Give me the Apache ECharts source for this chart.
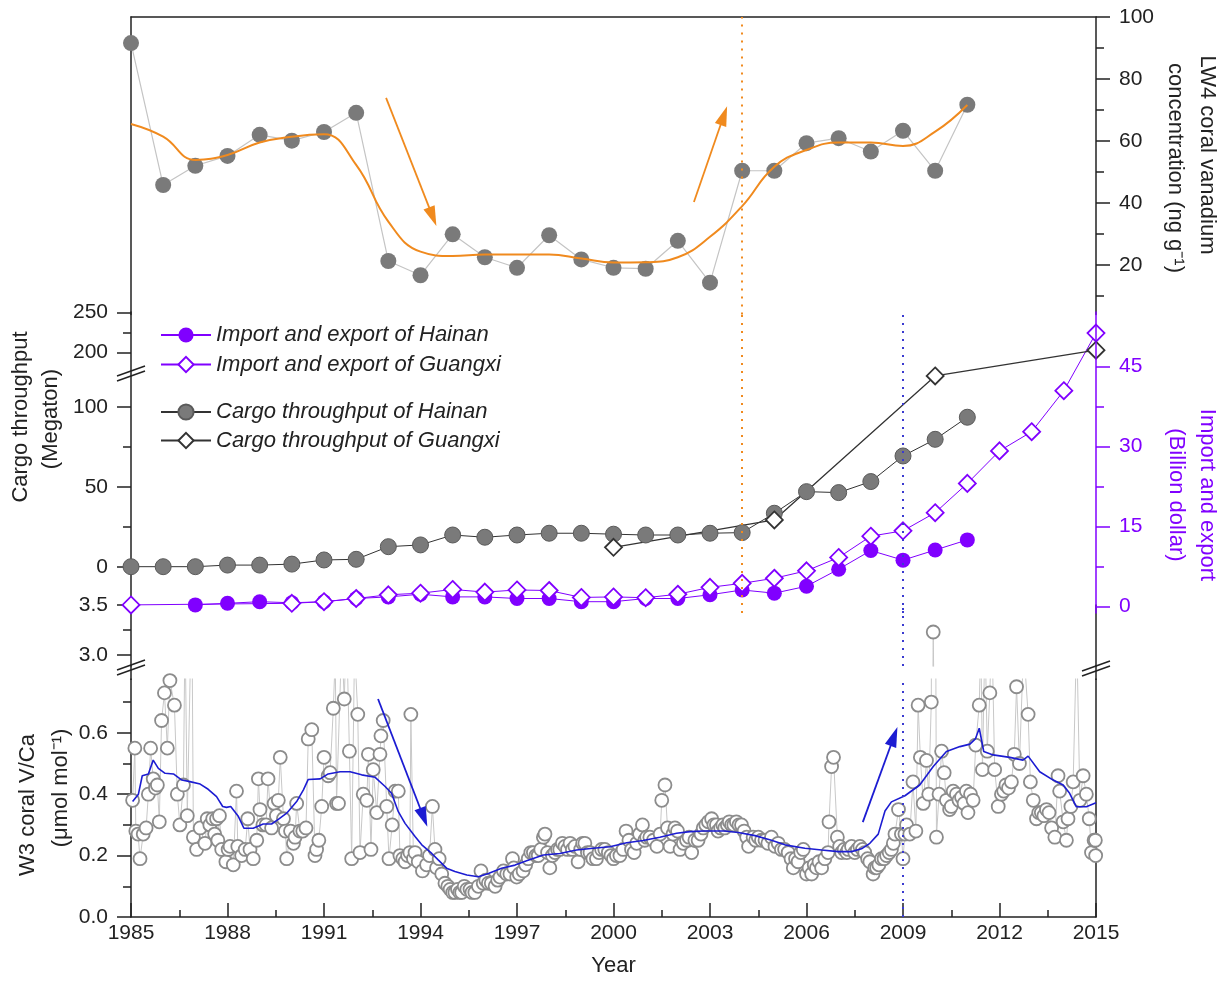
<!DOCTYPE html>
<html>
<head>
<meta charset="utf-8">
<title>Coral vanadium and trade</title>
<script src="https://cdn.jsdelivr.net/npm/echarts@6.0.0/dist/echarts.min.js"></script>
<style>
  html, body { margin: 0; padding: 0; background: #fff; }
  #chart { width: 1227px; height: 981px; }
</style>
</head>
<body>
<div id="chart"></div>
<script>
//LW4 珊瑚钒浓度
var lw4Years = [1985, 1986, 1987, 1988, 1989, 1990, 1991, 1992, 1993, 1994, 1995, 1996, 1997, 1998,
  1999, 2000, 2001, 2002, 2003, 2004, 2005, 2006, 2007, 2008, 2009, 2010, 2011];
var lw4Values = [91.6, 45.8, 52.0, 55.2, 62.0, 60.1, 62.9, 69.1, 21.3, 16.7, 29.9, 22.5, 19.1, 29.6,
  21.8, 19.1, 18.8, 27.8, 14.3, 50.4, 50.4, 59.3, 60.9, 56.6, 63.3, 50.4, 71.7];
var lw4Smooth = [65.5, 61.4, 53.9, 55.5, 59.5, 61.4, 62.2, 52.3, 34.0, 24.3, 22.9, 23.4, 23.4, 23.4,
  22.1, 20.8, 20.9, 22.5, 29.1, 39.0, 51.7, 57.1, 59.5, 59.5, 58.4, 63.0, 71.6];

//货物吞吐量
var cargoHainanYears = [1985, 1986, 1987, 1988, 1989, 1990, 1991, 1992, 1993, 1994, 1995, 1996, 1997, 1998,
  1999, 2000, 2001, 2002, 2003, 2004, 2005, 2006, 2007, 2008, 2009, 2010, 2011];
var cargoHainan = [0.2, 0.2, 0.2, 1.2, 1.2, 1.8, 4.4, 4.8, 12.7, 13.8, 20.0, 18.6, 20.0, 21.1,
  21.1, 20.5, 20.0, 20.0, 21.1, 21.5, 33.6, 47.1, 46.5, 53.4, 69.4, 79.8, 93.6];
var cargoGuangxiYears = [2000, 2005, 2010, 2015];
var cargoGuangxi = [12.3, 29.4, 119.4, 203];

//进出口
var importHainanYears = [1987, 1988, 1989, 1990, 1991, 1992, 1993, 1994, 1995, 1996, 1997, 1998, 1999,
  2000, 2001, 2002, 2003, 2004, 2005, 2006, 2007, 2008, 2009, 2010, 2011];
var importHainan = [0.3, 0.6, 0.9, 0.7, 0.9, 1.5, 1.8, 2.3, 1.8, 1.8, 1.5, 1.5, 0.9,
  0.9, 1.5, 1.5, 2.2, 3.1, 2.5, 3.8, 7.0, 10.5, 8.7, 10.6, 12.5];
var importGuangxiYears = [1985, 1990, 1991, 1992, 1993, 1994, 1995, 1996, 1997, 1998, 1999, 2000, 2001,
  2002, 2003, 2004, 2005, 2006, 2007, 2008, 2009, 2010, 2011, 2012, 2013, 2014, 2015];
var importGuangxi = [0.3, 0.6, 0.9, 1.5, 2.2, 2.5, 3.2, 2.7, 3.1, 3.0, 1.7, 1.8, 1.65,
  2.3, 3.6, 4.35, 5.3, 6.7, 9.2, 13.2, 14.2, 17.6, 23.1, 29.2, 32.8, 40.5, 51.3];

//W3 珊瑚 V/Ca
var w3Years = [
  1985.05, 1985.12, 1985.15, 1985.22, 1985.28, 1985.38, 1985.47, 1985.54, 1985.61, 1985.69, 1985.76, 1985.82, 1985.88, 1985.95,
  1986.04, 1986.13, 1986.21, 1986.35, 1986.44, 1986.52, 1986.63, 1986.68, 1986.75, 1986.89, 1986.94,
  1987.04, 1987.15, 1987.30, 1987.37, 1987.45, 1987.54, 1987.60, 1987.66, 1987.70, 1987.75, 1987.82, 1987.95,
  1988.02, 1988.08, 1988.18, 1988.28, 1988.32, 1988.44, 1988.55, 1988.63, 1988.70, 1988.80, 1988.91, 1988.96,
  1989.01, 1989.10, 1989.20, 1989.26, 1989.37, 1989.45, 1989.52, 1989.58, 1989.64, 1989.74, 1989.80, 1989.84, 1989.96,
  1990.05, 1990.10, 1990.15, 1990.25, 1990.34, 1990.44, 1990.51, 1990.62, 1990.72, 1990.77, 1990.84, 1990.93,
  1991.00, 1991.13, 1991.19, 1991.29, 1991.35, 1991.39, 1991.45, 1991.55, 1991.63, 1991.70, 1991.79, 1991.86, 1991.95,
  1992.05, 1992.12, 1992.22, 1992.33, 1992.38, 1992.46, 1992.53, 1992.64, 1992.74, 1992.77, 1992.84, 1992.95,
  1993.02, 1993.12, 1993.21, 1993.31, 1993.36, 1993.45, 1993.52, 1993.60, 1993.67, 1993.70, 1993.78, 1993.83, 1993.93,
  1994.06, 1994.19, 1994.28, 1994.37, 1994.45, 1994.50, 1994.58, 1994.66, 1994.76, 1994.85, 1994.92,
  1995.00, 1995.07, 1995.15, 1995.22, 1995.28, 1995.36, 1995.44, 1995.54, 1995.60, 1995.69, 1995.80, 1995.88, 1995.95,
  1996.03, 1996.11, 1996.20, 1996.32, 1996.40, 1996.47, 1996.58, 1996.68, 1996.78, 1996.86, 1996.90, 1996.99,
  1997.07, 1997.19, 1997.27, 1997.35, 1997.43, 1997.51, 1997.59, 1997.66, 1997.74, 1997.82, 1997.87, 1997.95,
  1998.02, 1998.10, 1998.18, 1998.26, 1998.33, 1998.41, 1998.49, 1998.57, 1998.65, 1998.72, 1998.80, 1998.90, 1998.98,
  1999.04, 1999.11, 1999.19, 1999.27, 1999.36, 1999.47, 1999.55, 1999.63, 1999.73, 1999.84, 1999.92,
  2000.00, 2000.09, 2000.20, 2000.30, 2000.39, 2000.48, 2000.56, 2000.64, 2000.72, 2000.81, 2000.90, 2000.97,
  2001.03, 2001.13, 2001.24, 2001.35, 2001.45, 2001.50, 2001.60, 2001.68, 2001.76, 2001.85, 2001.91, 2001.99,
  2002.07, 2002.17, 2002.27, 2002.35, 2002.43, 2002.53, 2002.63, 2002.72, 2002.79, 2002.87, 2002.95,
  2003.05, 2003.12, 2003.20, 2003.25, 2003.33, 2003.40, 2003.46, 2003.54, 2003.60, 2003.67, 2003.74, 2003.82, 2003.90, 2003.98,
  2004.06, 2004.14, 2004.20, 2004.34, 2004.42, 2004.50, 2004.60, 2004.71, 2004.80, 2004.91,
  2005.02, 2005.12, 2005.22, 2005.32, 2005.43, 2005.52, 2005.59, 2005.66, 2005.74, 2005.82, 2005.90,
  2006.00, 2006.08, 2006.16, 2006.24, 2006.31, 2006.39, 2006.47, 2006.57, 2006.67, 2006.70, 2006.78, 2006.84, 2006.96,
  2007.03, 2007.09, 2007.17, 2007.25, 2007.30, 2007.40, 2007.50, 2007.58, 2007.66, 2007.74, 2007.81, 2007.90, 2007.97,
  2008.07, 2008.12, 2008.18, 2008.25, 2008.33, 2008.41, 2008.49, 2008.57, 2008.64, 2008.70, 2008.75, 2008.86, 2008.95,
  2009.00, 2009.06, 2009.11, 2009.21, 2009.31, 2009.40, 2009.47, 2009.54, 2009.63, 2009.73, 2009.80, 2009.88, 2009.94,
  2010.04, 2010.12, 2010.20, 2010.28, 2010.35, 2010.45, 2010.50, 2010.56, 2010.66, 2010.74, 2010.82, 2010.90, 2010.97,
  2011.02, 2011.10, 2011.18, 2011.26, 2011.37, 2011.42, 2011.47, 2011.55, 2011.62, 2011.70, 2011.76, 2011.85, 2011.96,
  2012.06, 2012.13, 2012.20, 2012.28, 2012.37, 2012.46, 2012.53, 2012.62, 2012.75, 2012.89, 2012.96,
  2013.05, 2013.15, 2013.22, 2013.30, 2013.38, 2013.46, 2013.54, 2013.62, 2013.72, 2013.82, 2013.87, 2013.98,
  2014.08, 2014.13, 2014.22, 2014.29, 2014.40, 2014.50, 2014.60, 2014.70, 2014.79, 2014.86, 2014.94, 2014.98, 2014.99
];
var w3Values = [
  0.38, 0.55, 0.28, 0.27, 0.19, 0.27, 0.29, 0.40, 0.55, 0.45, 0.42, 0.43, 0.31, 0.64,
  0.73, 0.55, 0.77, 0.69, 0.40, 0.30, 0.43, 0.95, 0.33, 1.05, 0.26,
  0.22, 0.29, 0.24, 0.32, 0.30, 0.32, 0.27, 0.32, 0.25, 0.33, 0.22, 0.18,
  0.22, 0.23, 0.17, 0.41, 0.23, 0.20, 0.22, 0.32, 0.22, 0.19, 0.25, 0.45,
  0.35, 0.30, 0.30, 0.45, 0.29, 0.37, 0.33, 0.38, 0.52, 0.32, 0.28, 0.19, 0.28,
  0.24, 0.26, 0.37, 0.28, 0.28, 0.29, 0.58, 0.61, 0.20, 0.22, 0.25, 0.36,
  0.52, 0.46, 0.47, 0.68, 0.85, 0.37, 0.37, 0.90, 0.71, 0.95, 0.54, 0.19, 0.88,
  0.66, 0.21, 0.40, 0.38, 0.53, 0.22, 0.48, 0.34, 0.53, 0.59, 0.64, 0.36,
  0.19, 0.30, 0.41, 0.41, 0.20, 0.19, 0.18, 0.20, 0.21, 0.66, 0.19, 0.21, 0.18,
  0.15, 0.17, 0.20, 0.36, 0.22, 0.16, 0.19, 0.14, 0.11, 0.10, 0.09,
  0.08, 0.08, 0.09, 0.08, 0.08, 0.10, 0.09, 0.09, 0.08, 0.08, 0.10, 0.15, 0.11,
  0.12, 0.11, 0.11, 0.10, 0.12, 0.13, 0.15, 0.14, 0.14, 0.19, 0.16, 0.13,
  0.14, 0.15, 0.17, 0.19, 0.21, 0.21, 0.20, 0.20, 0.22, 0.26, 0.27, 0.21,
  0.16, 0.20, 0.21, 0.22, 0.22, 0.24, 0.23, 0.22, 0.24, 0.22, 0.23, 0.18, 0.22,
  0.24, 0.24, 0.21, 0.21, 0.19, 0.19, 0.21, 0.22, 0.22, 0.21, 0.20,
  0.19, 0.20, 0.20, 0.22, 0.28, 0.25, 0.22, 0.21, 0.24, 0.27, 0.30, 0.25,
  0.26, 0.26, 0.25, 0.23, 0.27, 0.38, 0.43, 0.29, 0.23, 0.27, 0.29, 0.28,
  0.22, 0.24, 0.25, 0.26, 0.21, 0.25, 0.25, 0.27, 0.29, 0.30, 0.31,
  0.32, 0.30, 0.30, 0.28, 0.29, 0.30, 0.29, 0.30, 0.31, 0.30, 0.30, 0.31, 0.30, 0.30,
  0.28, 0.26, 0.23, 0.26, 0.25, 0.26, 0.25, 0.25, 0.24, 0.26,
  0.23, 0.24, 0.22, 0.22, 0.21, 0.19, 0.16, 0.19, 0.18, 0.21, 0.22,
  0.14, 0.16, 0.14, 0.17, 0.16, 0.18, 0.16, 0.19, 0.21, 0.31, 0.49, 0.52, 0.26,
  0.23, 0.21, 0.22, 0.21, 0.22, 0.23, 0.21, 0.22, 0.23, 0.22, 0.21, 0.19, 0.18,
  0.14, 0.16, 0.16, 0.17, 0.19, 0.19, 0.20, 0.21, 0.22, 0.24, 0.27, 0.35, 0.27,
  0.19, 0.27, 0.30, 0.27, 0.44, 0.28, 0.69, 0.52, 0.37, 0.51, 0.40, 0.70, 3.23,
  0.26, 0.40, 0.54, 0.47, 0.38, 0.35, 0.36, 0.41, 0.40, 0.38, 0.39, 0.37, 0.41,
  0.34, 0.40, 0.38, 0.56, 0.69, 0.90, 0.48, 0.92, 0.54, 0.73, 0.95, 0.48, 0.36,
  0.40, 0.41, 0.43, 0.42, 0.44, 0.53, 0.75, 0.50, 0.88, 0.66, 0.44,
  0.38, 0.32, 0.34, 0.34, 0.33, 0.35, 0.34, 0.29, 0.26, 0.46, 0.41, 0.31,
  0.25, 0.32, 0.36, 0.44, 0.92, 0.38, 0.46, 0.40, 0.32, 0.21, 0.25, 0.25, 0.20
];
var w3SmoothYears = [1985.05, 1985.23, 1985.35, 1985.54, 1985.69, 1985.85, 1986.06, 1986.32, 1986.58, 1986.83,
  1987.15, 1987.40, 1987.66, 1987.85, 1987.97, 1988.10, 1988.34, 1988.51, 1988.80, 1989.11, 1989.37, 1989.58,
  1989.84, 1990.15, 1990.36, 1990.51, 1990.88, 1991.13, 1991.50, 1991.81, 1992.17, 1992.59, 1992.90, 1993.10,
  1993.31, 1993.52, 1993.83, 1994.04, 1994.35, 1994.55, 1994.81, 1995.07, 1995.44, 1995.80, 1996.11, 1996.52,
  1996.94, 1997.30, 1997.82, 1998.33, 1998.85, 1999.37, 1999.89, 2000.41, 2000.92, 2001.44, 2001.96, 2002.38,
  2002.79, 2003.15, 2003.46, 2003.88, 2004.40, 2004.91, 2005.33, 2005.95, 2006.47, 2006.99, 2007.40, 2007.71,
  2007.97, 2008.23, 2008.44, 2008.64, 2009.06, 2009.52, 2009.94, 2010.35, 2010.77, 2011.08, 2011.25, 2011.37,
  2011.51, 2011.80, 2012.32, 2012.73, 2012.89, 2013.25, 2013.67, 2013.98, 2014.18, 2014.39, 2014.70, 2015.00];
var w3Smooth = [0.376, 0.40, 0.46, 0.466, 0.511, 0.484, 0.468, 0.466, 0.446, 0.441,
  0.433, 0.416, 0.392, 0.36, 0.357, 0.36, 0.327, 0.289, 0.289, 0.303, 0.303, 0.318,
  0.338, 0.376, 0.414, 0.448, 0.45, 0.466, 0.473, 0.473, 0.463, 0.455, 0.425, 0.403,
  0.343, 0.305, 0.262, 0.235, 0.207, 0.186, 0.159, 0.148, 0.137, 0.131, 0.142, 0.159,
  0.169, 0.183, 0.202, 0.207, 0.218, 0.224, 0.229, 0.242, 0.249, 0.26, 0.273, 0.278,
  0.28, 0.28, 0.28, 0.275, 0.265, 0.25, 0.235, 0.224, 0.218, 0.213, 0.213, 0.222,
  0.24, 0.27, 0.345, 0.375, 0.395, 0.43, 0.49, 0.539, 0.555, 0.563, 0.58, 0.615,
  0.539, 0.528, 0.52, 0.511, 0.524, 0.473, 0.446, 0.43, 0.403, 0.359, 0.359, 0.372];

//刻度
var yearTicks = [1985, 1988, 1991, 1994, 1997, 2000, 2003, 2006, 2009, 2012, 2015];
var lw4Ticks = [20, 40, 60, 80, 100];
var lw4Minor = [10, 30, 50, 70, 90];
var cargoTicks = [0, 50, 100, 200, 250];
var cargoMinor = [25, 75, 225];
var importTicks = [0, 15, 30, 45];
var importMinor = [7.5, 22.5, 37.5];
var vcaTicks = [0, 0.2, 0.4, 0.6];
var vcaMinor = [0.1, 0.3, 0.5, 0.7];
var vcaHighTicks = [3.0, 3.5];
var vcaHighMinor = [3.25];

var font = '"Liberation Sans", Arial, Helvetica, sans-serif';
var ink = '#222';
var purple = '#8000ff';
var orange = '#f08a1e';
var blue = '#1c1cd2';

//断轴：0-122 原比例，176 以上压缩一半
function cargoScale(v) {
  return v <= 122 ? v : 122 + (v - 176) * 0.5;
}

function toPairs(xs, ys, fn) {
  return xs.map(function (x, i) { return [x, fn ? fn(ys[i]) : ys[i]]; });
}

function midpoints(arr) {
  var out = [];
  for (var i = 0; i < arr.length - 1; i++) out.push((arr[i] + arr[i + 1]) / 2);
  return out;
}

function yMajor(grid, pos, min, max, ticks, color, fmt, z) {
  return {
    type: 'value', gridIndex: grid, position: pos, min: min, max: max, z: z || 0,
    splitLine: { show: false },
    axisLine: { show: true, onZero: false, lineStyle: { color: color, width: 1.5 } },
    axisTick: { show: true, inside: false, length: 14, customValues: ticks, lineStyle: { color: color, width: 1.5 } },
    axisLabel: fmt ? {
      show: true, customValues: ticks, margin: 23, color: color,
      fontSize: 21, fontFamily: font, formatter: fmt
    } : { show: false }
  };
}

function yMinor(grid, pos, min, max, ticks, color) {
  return {
    type: 'value', gridIndex: grid, position: pos, min: min, max: max,
    splitLine: { show: false },
    axisLine: { show: false, onZero: false },
    axisTick: { show: true, inside: false, length: 8, customValues: ticks, lineStyle: { color: color, width: 1.5 } },
    axisLabel: { show: false }
  };
}

function yLine(grid, pos, min, max) {
  return {
    type: 'value', gridIndex: grid, position: pos, min: min, max: max,
    splitLine: { show: false },
    axisLine: { show: true, onZero: false, lineStyle: { color: ink, width: 1.5 } },
    axisTick: { show: false },
    axisLabel: { show: false }
  };
}

function xHidden(grid) {
  return { type: 'value', gridIndex: grid, min: 1985, max: 2015, show: false };
}

function breakMark(cx, cy) {
  return {
    type: 'group', x: cx, y: cy, z: 100, silent: true,
    children: [
      { type: 'polygon', shape: { points: [[-14, 3], [14, -7], [14, -2], [-14, 8]] }, style: { fill: '#fff' } },
      { type: 'line', shape: { x1: -14, y1: 3, x2: 14, y2: -7 }, style: { stroke: ink, lineWidth: 1.5 } },
      { type: 'line', shape: { x1: -14, y1: 8, x2: 14, y2: -2 }, style: { stroke: ink, lineWidth: 1.5 } }
    ]
  };
}

function title(text, x, y, rot, color) {
  return {
    type: 'text', x: x, y: y, rotation: rot, silent: true, z: 100,
    style: {
      text: text, fill: color, font: '22px ' + font,
      align: 'center', verticalAlign: 'middle', textAlign: 'center', textVerticalAlign: 'middle'
    }
  };
}

function arrow(from, to, color) {
  return [
    { coord: from, symbol: 'none' },
    { coord: to, symbol: 'triangle', symbolSize: [12, 20], itemStyle: { color: color } }
  ];
}

function dotted(x, color) {
  return { xAxis: x, symbol: 'none', lineStyle: { type: [2, 6], width: 2, color: color } };
}

function renderChart() {
  var myChart = echarts.init(document.getElementById('chart'));
  var cargoShown = cargoTicks.map(cargoScale);
  var legendText = { fontSize: 22, fontFamily: font, fontStyle: 'italic', color: ink };

  var options = {
    animation: false,
    backgroundColor: '#fff',
    grid: [
      { left: 131, top: 17, width: 965, height: 297.6 },
      { left: 131, top: 312, width: 965, height: 301 },
      { left: 131, top: 605, width: 965, height: 61 },
      { left: 131, top: 679, width: 965, height: 238 }
    ],
    legend: [
      {
        data: ['Import and export of Hainan', 'Import and export of Guangxi'],
        orient: 'vertical', left: 160, top: 324, padding: 0, itemGap: 7.5,
        itemWidth: 50, itemHeight: 19, selectedMode: false, textStyle: legendText
      },
      {
        data: ['Cargo throughput of Hainan', 'Cargo throughput of Guangxi'],
        orient: 'vertical', left: 160, top: 401, padding: 0, itemGap: 6.5,
        itemWidth: 50, itemHeight: 19, selectedMode: false, textStyle: legendText
      }
    ],
    xAxis: [
      {
        type: 'value', gridIndex: 0, position: 'top', min: 1985, max: 2015,
        splitLine: { show: false }, axisTick: { show: false }, axisLabel: { show: false },
        axisLine: { show: true, onZero: false, lineStyle: { color: ink, width: 1.5 } }
      },
      xHidden(1),
      xHidden(2),
      {
        type: 'value', gridIndex: 3, position: 'bottom', min: 1985, max: 2015,
        name: 'Year', nameLocation: 'middle', nameGap: 38,
        nameTextStyle: { fontSize: 22, fontFamily: font, color: ink },
        splitLine: { show: false },
        axisLine: { show: true, onZero: false, lineStyle: { color: ink, width: 1.5 } },
        axisTick: { show: true, inside: true, length: 14, customValues: yearTicks, lineStyle: { color: ink, width: 1.5 } },
        axisLabel: {
          customValues: yearTicks, margin: 6, fontSize: 21, fontFamily: font, color: ink,
          formatter: function (v) { return String(v); }
        }
      },
      {
        type: 'value', gridIndex: 3, position: 'bottom', min: 1985, max: 2015,
        splitLine: { show: false }, axisLine: { show: false, onZero: false }, axisLabel: { show: false },
        axisTick: { show: true, inside: true, length: 7, customValues: midpoints(yearTicks), lineStyle: { color: ink, width: 1.5 } }
      }
    ],
    yAxis: [
      yMajor(0, 'right', 4, 100, lw4Ticks, ink, function (v) { return String(v); }),
      yMinor(0, 'right', 4, 100, lw4Minor, ink),
      yLine(0, 'left', 4, 100),
      yMajor(1, 'left', -28.75, 159.375, cargoShown, ink, function (v) {
        var i = cargoShown.indexOf(v);
        return i < 0 ? '' : String(cargoTicks[i]);
      }),
      yMinor(1, 'left', -28.75, 159.375, cargoMinor.map(cargoScale), ink),
      yMajor(1, 'right', -1.22, 55.26, importTicks, purple, function (v) { return String(v); }, 5),
      yMinor(1, 'right', -1.22, 55.26, importMinor, purple),
      yMajor(2, 'left', 2.89, 3.5, vcaHighTicks, ink, function (v) { return v.toFixed(1); }),
      yMinor(2, 'left', 2.89, 3.5, vcaHighMinor, ink),
      yLine(2, 'right', 2.89, 3.5),
      yMajor(3, 'left', 0, 0.7752, vcaTicks, ink, function (v) { return v.toFixed(1); }),
      yMinor(3, 'left', 0, 0.7752, vcaMinor, ink),
      yLine(3, 'right', 0, 0.7752)
    ],
    graphic: [
      //断轴标记和断口处的轴线
      { type: 'line', silent: true, z: 90, shape: { x1: 131, y1: 665, x2: 131, y2: 680 }, style: { stroke: ink, lineWidth: 1.5 } },
      { type: 'line', silent: true, z: 90, shape: { x1: 1096, y1: 665, x2: 1096, y2: 680 }, style: { stroke: ink, lineWidth: 1.5 } },
      breakMark(131, 373),
      breakMark(131, 667),
      breakMark(1096, 668),
      title('LW4 coral vanadium', 1207, 155, -Math.PI / 2, ink),
      title('concentration (ng g\u207B\u00B9)', 1175, 168, -Math.PI / 2, ink),
      title('Import and export', 1207, 495, -Math.PI / 2, purple),
      title('(Billion dollar)', 1176, 495, -Math.PI / 2, purple),
      title('Cargo throughput', 21, 417, Math.PI / 2, ink),
      title('(Megaton)', 51, 419, Math.PI / 2, ink),
      title('W3 coral V/Ca', 28, 805, Math.PI / 2, ink),
      title('(\u03BCmol mol\u207B\u00B9)', 61, 788, Math.PI / 2, ink)
    ],
    series: [
      {
        name: 'LW4', type: 'line', xAxisIndex: 0, yAxisIndex: 0,
        data: toPairs(lw4Years, lw4Values),
        symbol: 'circle', symbolSize: 16, z: 3,
        itemStyle: { color: '#7a7a7a' },
        lineStyle: { color: '#c4c4c4', width: 1.2 },
        emphasis: { disabled: true },
        markLine: {
          silent: true, animation: false, symbol: 'none', symbolSize: 14,
          label: { show: false }, emphasis: { disabled: true },
          lineStyle: { color: orange, width: 1.8, type: 'solid' },
          itemStyle: { color: orange },
          data: [
            dotted(2004, orange),
            arrow([1992.93, 73.9], [1994.38, 35.6], orange),
            arrow([2002.50, 40.3], [2003.43, 68.2], orange)
          ]
        }
      },
      {
        name: 'LW4 smooth', type: 'line', xAxisIndex: 0, yAxisIndex: 0,
        data: toPairs(lw4Years, lw4Smooth),
        smooth: 0.45, showSymbol: false, symbol: 'none', z: 4,
        lineStyle: { color: orange, width: 2 },
        emphasis: { disabled: true }
      },
      {
        name: 'Import and export of Hainan', type: 'line', xAxisIndex: 1, yAxisIndex: 5,
        data: toPairs(importHainanYears, importHainan),
        symbol: 'circle', symbolSize: 15,
        itemStyle: { color: purple },
        lineStyle: { color: purple, width: 1 },
        emphasis: { disabled: true }
      },
      {
        name: 'Import and export of Guangxi', type: 'line', xAxisIndex: 1, yAxisIndex: 5,
        data: toPairs(importGuangxiYears, importGuangxi),
        symbol: 'diamond', symbolSize: 17,
        itemStyle: { color: '#fff', borderColor: purple, borderWidth: 1.8 },
        lineStyle: { color: purple, width: 1 },
        emphasis: { disabled: true }
      },
      {
        name: 'Cargo throughput of Hainan', type: 'line', xAxisIndex: 1, yAxisIndex: 3,
        data: toPairs(cargoHainanYears, cargoHainan, cargoScale),
        symbol: 'circle', symbolSize: 16,
        itemStyle: { color: '#7a7a7a', borderColor: '#5a5a5a', borderWidth: 1 },
        lineStyle: { color: '#333', width: 1 },
        emphasis: { disabled: true }
      },
      {
        name: 'Cargo throughput of Guangxi', type: 'line', xAxisIndex: 1, yAxisIndex: 3,
        data: toPairs(cargoGuangxiYears, cargoGuangxi, cargoScale),
        symbol: 'diamond', symbolSize: 17,
        itemStyle: { color: '#fff', borderColor: '#333', borderWidth: 1.8 },
        lineStyle: { color: '#333', width: 1.3 },
        emphasis: { disabled: true },
        markLine: {
          silent: true, animation: false, symbol: 'none',
          label: { show: false }, emphasis: { disabled: true },
          data: [dotted(2004, orange), dotted(2009, '#3a3ad0')]
        }
      },
      {
        name: 'W3 high', type: 'line', xAxisIndex: 2, yAxisIndex: 7,
        data: toPairs(w3Years, w3Values),
        symbol: 'circle', symbolSize: 13, clip: true,
        itemStyle: { color: '#fff', borderColor: '#8c8c8c', borderWidth: 1.8 },
        lineStyle: { color: '#c8c8c8', width: 1 },
        emphasis: { disabled: true },
        markLine: {
          silent: true, animation: false, symbol: 'none',
          label: { show: false }, emphasis: { disabled: true },
          data: [dotted(2009, '#3a3ad0')]
        }
      },
      {
        name: 'W3', type: 'line', xAxisIndex: 3, yAxisIndex: 10,
        data: toPairs(w3Years, w3Values),
        symbol: 'circle', symbolSize: 13, clip: true,
        itemStyle: { color: '#fff', borderColor: '#8c8c8c', borderWidth: 1.8 },
        lineStyle: { color: '#c8c8c8', width: 1 },
        emphasis: { disabled: true },
        markLine: {
          silent: true, animation: false, symbol: 'none', symbolSize: 14,
          label: { show: false }, emphasis: { disabled: true },
          lineStyle: { color: blue, width: 1.8, type: 'solid' },
          itemStyle: { color: blue },
          data: [
            dotted(2009, '#3a3ad0'),
            arrow([1992.68, 0.71], [1994.10, 0.324], blue),
            arrow([2007.75, 0.309], [2008.72, 0.588], blue)
          ]
        }
      },
      {
        name: 'W3 smooth', type: 'line', xAxisIndex: 3, yAxisIndex: 10,
        data: toPairs(w3SmoothYears, w3Smooth),
        showSymbol: false, symbol: 'none', z: 4,
        lineStyle: { color: blue, width: 1.6 },
        emphasis: { disabled: true }
      }
    ]
  };

  myChart.setOption(options, true);
}

renderChart();
</script>
</body>
</html>
